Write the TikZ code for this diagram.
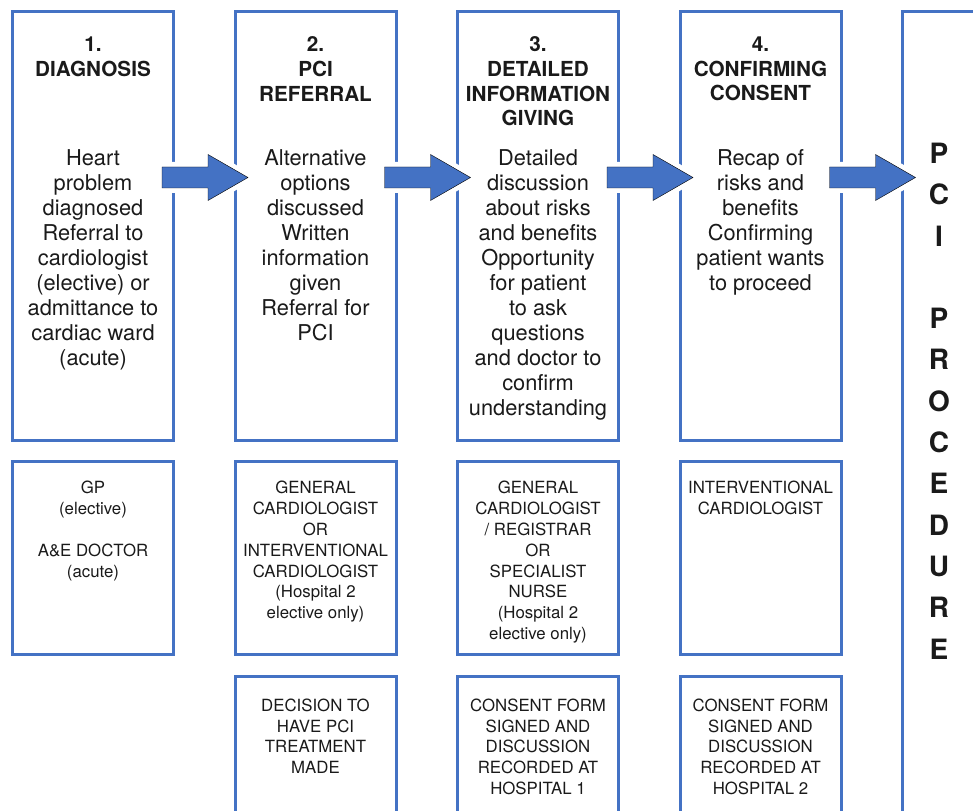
\documentclass[tikz,border=0pt]{standalone}
\usepackage{fontspec}
\setmainfont{TeX Gyre Heros}
\definecolor{pciblue}{HTML}{4472C4}
\definecolor{inkgrey}{HTML}{1A1A1A}

\begin{document}
\begin{tikzpicture}[x=1pt,y=-1pt,
    stage/.style={draw=pciblue,line width=3pt,inner sep=0pt,minimum width=161pt},
    headtext/.style={anchor=north,inner sep=0pt,align=center,text=inkgrey,
      font=\bfseries\fontsize{20.7}{24.7}\selectfont,execute at begin node=\strut},
    bodytext/.style={anchor=north,inner sep=0pt,align=center,text=inkgrey,
      font=\fontsize{21.8}{25}\selectfont,execute at begin node=\strut},
    roletext/.style={anchor=north,inner sep=0pt,align=center,text=inkgrey,
      font=\fontsize{16.8}{20.85}\selectfont,execute at begin node=\strut},
    stagearrow/.style={fill=pciblue,preaction={draw=white,line width=10pt,line join=round}}]
      \useasboundingbox (0,0) rectangle (973,810);
      \clip (0,0) rectangle (973,810);

      % top row: the four stages
      \node[stage,minimum height=428.3pt] (diag) at (93,225.85) {};
      \node[stage,minimum height=428.3pt] (refer) at (315.5,225.85) {};
      \node[stage,minimum height=428.3pt] (inform) at (538,225.85) {};
      \node[stage,minimum height=428.3pt] (consent) at (760.5,225.85) {};
      \node[stage,minimum width=97.5pt,minimum height=828.3pt] (proc) at (951.25,425.85) {};

      \node[headtext] (diaghead) at (93,36.7) {1.\\DIAGNOSIS};
      \node[headtext] (referhead) at (315.5,36.7) {2.\\PCI\\REFERRAL};
      \node[headtext] (informhead) at (538,36.7) {3.\\DETAILED\\INFORMATION\\GIVING};
      \node[headtext] (consenthead) at (760.5,36.7) {4.\\CONFIRMING\\CONSENT};

      \node[bodytext] (diagbody) at (93,149.5) {Heart\\problem\\diagnosed\\Referral to\\cardiologist\\(elective) or\\admittance to\\cardiac ward\\(acute)};
      \node[bodytext] (referbody) at (315.5,149.5) {Alternative\\options\\discussed\\Written\\information\\given\\Referral for\\PCI};
      \node[bodytext] (informbody) at (538,149.5) {Detailed\\discussion\\about risks\\and benefits\\Opportunity\\for patient\\to ask\\questions\\and doctor to\\confirm\\understanding};
      \node[bodytext] (consentbody) at (760.5,149.5) {Recap of\\risks and\\benefits\\Confirming\\patient wants\\to proceed};

      \node[headtext,font=\bfseries\fontsize{28}{41.3}\selectfont] (proctext) at (939,142.8)
        {P\\C\\I\\ \\P\\R\\O\\C\\E\\D\\U\\R\\E};

      % middle row: who does it
      \node[stage,minimum height=193pt] (diagwho) at (93,558) {};
      \node[stage,minimum height=193pt] (referwho) at (315.5,558) {};
      \node[stage,minimum height=193pt] (informwho) at (538,558) {};
      \node[stage,minimum height=193pt] (consentwho) at (760.5,558) {};

      \node[roletext] (diagrole) at (93,480.9) {GP\\(elective)\\ \\A\&E DOCTOR\\(acute)};
      \node[roletext] (referrole) at (315.5,480.9) {GENERAL\\CARDIOLOGIST\\OR\\INTERVENTIONAL\\CARDIOLOGIST\\(Hospital 2\\elective only)};
      \node[roletext] (informrole) at (538,480.9) {GENERAL\\CARDIOLOGIST\\/ REGISTRAR\\OR\\SPECIALIST\\NURSE\\(Hospital 2\\elective only)};
      \node[roletext] (consentrole) at (760.5,480.9) {INTERVENTIONAL\\CARDIOLOGIST};

      % bottom row: what is recorded
      \node[stage,minimum height=164pt] (referrec) at (315.5,758) {};
      \node[stage,minimum height=164pt] (informrec) at (538,758) {};
      \node[stage,minimum height=164pt] (consentrec) at (760.5,758) {};

      \node[roletext] (referout) at (315.5,698.4) {DECISION TO\\HAVE PCI\\TREATMENT\\MADE};
      \node[roletext] (informout) at (538,698.4) {CONSENT FORM\\SIGNED AND\\DISCUSSION\\RECORDED AT\\HOSPITAL 1};
      \node[roletext] (consentout) at (760.5,698.4) {CONSENT FORM\\SIGNED AND\\DISCUSSION\\RECORDED AT\\HOSPITAL 2};

      % block arrows between the stages
      \coordinate (from1) at (162,177.5);
      \coordinate (to1) at (248,177.5);
      \coordinate (from2) at (384.5,177.5);
      \coordinate (to2) at (470.5,177.5);
      \coordinate (from3) at (607,177.5);
      \coordinate (to3) at (693,177.5);
      \coordinate (from4) at (829.5,177.5);
      \coordinate (to4) at (915.5,177.5);
      \draw[stagearrow] (from1) ++(0,-10.5) -- ++(46,0) -- ++(0,-12.5) -- (to1) -- ++(-40,23) -- ++(0,-12.5) -- ++(-46,0) -- cycle;
      \draw[stagearrow] (from2) ++(0,-10.5) -- ++(46,0) -- ++(0,-12.5) -- (to2) -- ++(-40,23) -- ++(0,-12.5) -- ++(-46,0) -- cycle;
      \draw[stagearrow] (from3) ++(0,-10.5) -- ++(46,0) -- ++(0,-12.5) -- (to3) -- ++(-40,23) -- ++(0,-12.5) -- ++(-46,0) -- cycle;
      \draw[stagearrow] (from4) ++(0,-10.5) -- ++(46,0) -- ++(0,-12.5) -- (to4) -- ++(-40,23) -- ++(0,-12.5) -- ++(-46,0) -- cycle;
    \end{tikzpicture}
\end{document}
